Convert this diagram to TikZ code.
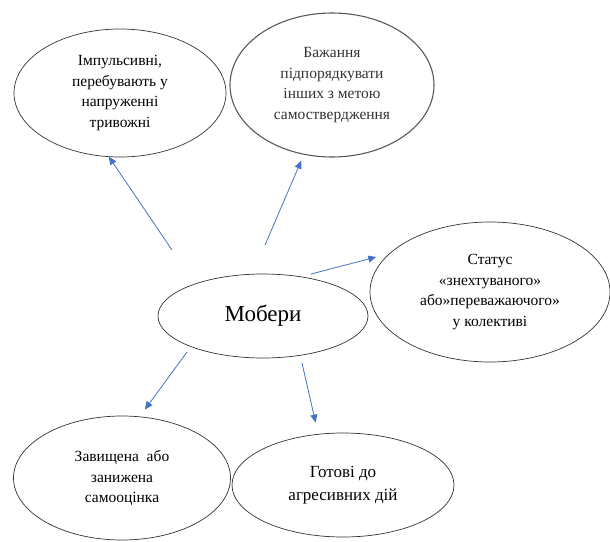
\documentclass[tikz,border=0pt]{standalone}
\usepackage{fontspec}
\setmainfont{Liberation Serif}
\newfontfamily\uaserif{Liberation Serif}
\usetikzlibrary{shapes.geometric,arrows.meta}
\definecolor{arrblue}{RGB}{68,114,196}
\begin{document}
\begin{tikzpicture}[x=1pt,y=-1pt]
      \useasboundingbox (0,0) rectangle (610,541);

      \begin{scope}[every node/.style={ellipse,draw=black!80,line width=.7pt,inner sep=0pt,outer sep=0pt,align=center,font=\uaserif\fontsize{15.5}{20.5}\selectfont}]
        \node[minimum width=212pt,minimum height=128pt] (imp)  at (120,93)  {Імпульсивні,\\перебувають у\\напруженні\\тривожні};
        \node[minimum width=204pt,minimum height=144pt,draw=black!65,line width=1.1pt,text=black!80] (bazh) at (332,85) {Бажання\\підпорядкувати\\інших з метою\\самоствердження};
        \node[minimum width=240pt,minimum height=140pt] (stat) at (490,292) {Статус\\«знехтуваного»\\або»переважаючого»\\у колективі};
        \node[minimum width=210pt,minimum height=84pt,font=\uaserif\fontsize{23}{26}\selectfont] (mob) at (263,316) {Мобери};
        \node[minimum width=217pt,minimum height=124pt] (zav)  at (122,478) {Завищена\ \ або\\занижена\\самооцінка};
        \node[minimum width=222pt,minimum height=104pt,font=\uaserif\fontsize{17}{23}\selectfont] (got) at (343,485) {Готові до\\агресивних дій};
      \end{scope}

      % tails of the arrows, just off the central ellipse
      \coordinate (t1) at (172,250);
      \coordinate (t2) at (265,245);
      \coordinate (t3) at (311,274);
      \coordinate (t4) at (187,352);
      \coordinate (t5) at (302,363);

      \begin{scope}[every edge/.style={draw=arrblue,line width=.8pt,-{Triangle[length=8pt,width=7pt]}}]
        \path (t1) edge (imp.-100);
        \path (t2) edge[shorten >=7pt] (bazh.-112);
        \path (t3) edge[shorten >=14pt] (stat.159);
        \path (t4) edge[shorten >=9pt] (zav.74);
        \path (t5) edge[shorten >=12pt] (got.116);
      \end{scope}

    \end{tikzpicture}
\end{document}
